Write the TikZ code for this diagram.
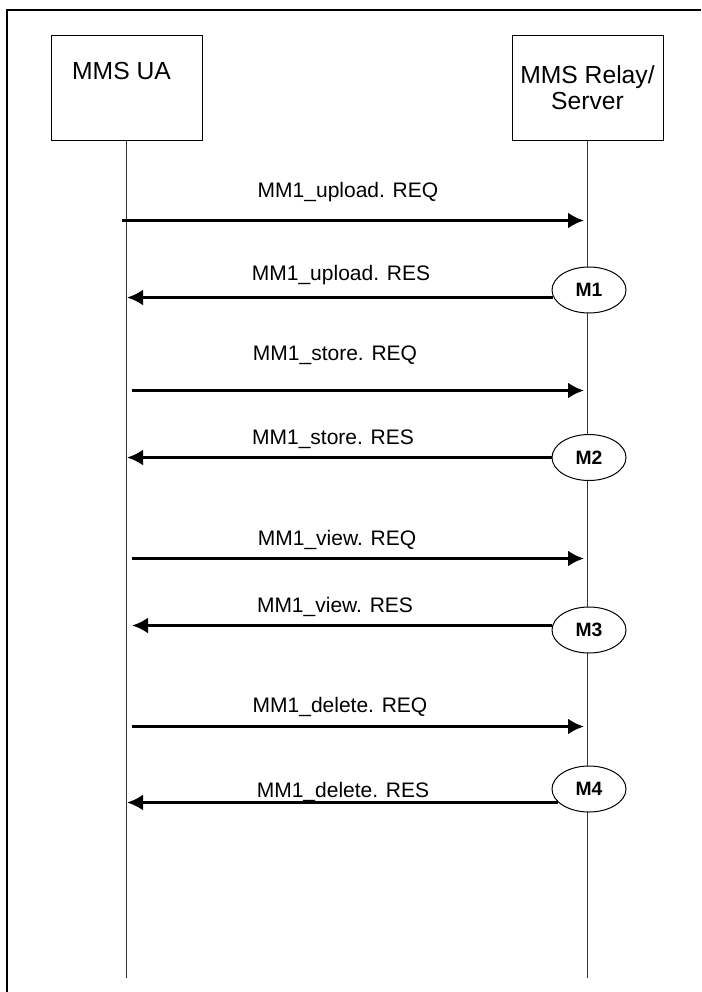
\documentclass[tikz,border=0pt]{standalone}
\usepackage{fontspec}
\setmainfont{Liberation Sans}
\usetikzlibrary{shapes.geometric}
\usetikzlibrary{positioning}
\usetikzlibrary{arrows.meta}
\tikzset{entity/.style={draw,line width=0.75pt,minimum width=113.25pt,minimum height=78.75pt,inner sep=0pt,align=center,font=\fontsize{18.5}{19.5}\selectfont},
lifeline/.style={line width=0.75pt,black!80},
mnode/.style={ellipse,draw,fill=white,line width=0.75pt,minimum width=55.5pt,minimum height=34.5pt,inner sep=0pt,font=\fontsize{14.5}{16}\selectfont\bfseries},
call/.style={line width=2.25pt,-{Latex[length=12pt,width=12pt]}},
msglabel/.style={anchor=base,inner sep=0pt,font=\fontsize{15.75}{18}\selectfont}}

\begin{document}
\begin{tikzpicture}[x=0.75pt,y=-0.75pt]
\useasboundingbox (0,0) rectangle (701,992);
\draw[line width=1.5pt] (7,992) -- (7,10) -- (701,10);

\node (ua) [entity, text depth=25.5pt] at (126.5,87.5) {MMS UA\hspace*{7.5pt}};
\node (relay) [entity] at (587.5,87.5) {MMS Relay/\\Server};
\coordinate [below=627.75pt of ua.south] (uaend);
\coordinate [below=627.75pt of relay.south] (relayend);
\draw[lifeline] (ua.south) -- (uaend);
\draw[lifeline] (relay.south) -- (relayend);

\node (m1) [mnode] at (589,290) {M1};
\node (m2) [mnode] at (589,457.5) {M2};
\node (m3) [mnode] at (589,630) {M3};
\node (m4) [mnode] at (589,789) {M4};

% requests
\coordinate (q1a) at (122,220.5); \coordinate (q1b) at (584,220.5);
\coordinate (q2a) at (132,390.5); \coordinate (q2b) at (584,390.5);
\coordinate (q3a) at (132,558.5); \coordinate (q3b) at (584,558.5);
\coordinate (q4a) at (132,726.5); \coordinate (q4b) at (584,726.5);
\draw[call] (q1a) -- (q1b);
\draw[call] (q2a) -- (q2b);
\draw[call] (q3a) -- (q3b);
\draw[call] (q4a) -- (q4b);

% responses
\coordinate (s1) at (127,297.5);
\coordinate (s2) at (127,457.5);
\coordinate (s3) at (132,625.5);
\coordinate (s4) at (127,802.5);
\draw[call] (s1 -| m1.192) -- (s1);
\draw[call] (s2 -| m2.west) -- (s2);
\draw[call] (s3 -| m3.172) -- (s3);
\draw[call] (s4 -| m4.203) -- (s4);

\node (l1) [msglabel] at (348,197) {MM1\_upload. REQ};
\node (l2) [msglabel] at (341,280) {MM1\_upload. RES};
\node (l3) [msglabel] at (335,360) {MM1\_store. REQ};
\node (l4) [msglabel] at (333,444) {MM1\_store. RES};
\node (l5) [msglabel] at (337,545) {MM1\_view. REQ};
\node (l6) [msglabel] at (335,612) {MM1\_view. RES};
\node (l7) [msglabel] at (340,712) {MM1\_delete. REQ};
\node (l8) [msglabel] at (343,797) {MM1\_delete. RES};
\end{tikzpicture}
\end{document}
